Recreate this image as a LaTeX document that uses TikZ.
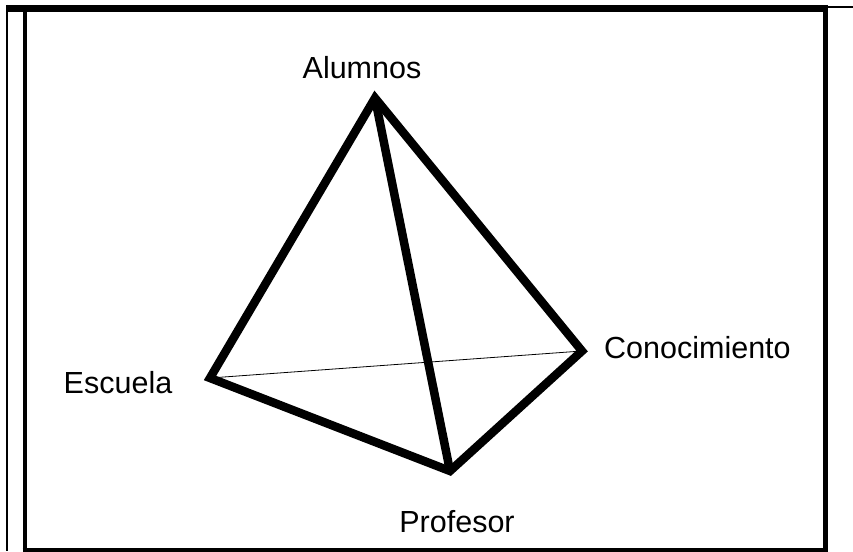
\documentclass[tikz,border=0pt]{standalone}
\usepackage{fontspec}
\setmainfont{Liberation Sans}
\usetikzlibrary{calc}

\begin{document}
\begin{tikzpicture}[
      x=1pt, y=-1pt,
      edge/.style={line width=8.5pt, line join=miter, line cap=butt},
      hidden/.style={line width=0.8pt},
      frameThin/.style={line width=1.4pt},
      lbl/.style={anchor=base, inner sep=0pt, font=\fontsize{30.5}{36}\selectfont}
    ]
    \useasboundingbox (0,0) rectangle (853,551);

    % -------- FRAME --------
    \draw[frameThin] (7,5) -- (7,551);
    \draw[frameThin] (826,7) -- (853,7);
    \draw[line width=6.5pt] (6,8.3) -- (828.3,8.3);
    \draw[line width=4pt] (24.7,11) -- (24.7,551);
    \draw[line width=5pt] (825.8,5) -- (825.8,551);
    \draw[line width=4pt] (22.7,550) -- (828.3,550);

    % -------- VERTICES --------
    \coordinate (alu) at (375,98);
    \coordinate (esc) at (210,378);
    \coordinate (con) at (582,351);
    \coordinate (pro) at (450,471);

    % arista oculta
    \draw[hidden] (esc) -- (con);

    % aristas visibles
    \draw[edge] (esc) -- (alu) -- (con) -- (pro) -- cycle;
    \draw[edge] (alu) -- (pro);

    % -------- LABELS --------
    \node[lbl] (aluL) at (362,78) {Alumnos};
    \node[lbl] (escL) at (118,393) {Escuela};
    \node[lbl, anchor=base west] (conL) at (604,358) {Conocimiento};
    \node[lbl] (proL) at (457,532) {Profesor};

\end{tikzpicture}
\end{document}
